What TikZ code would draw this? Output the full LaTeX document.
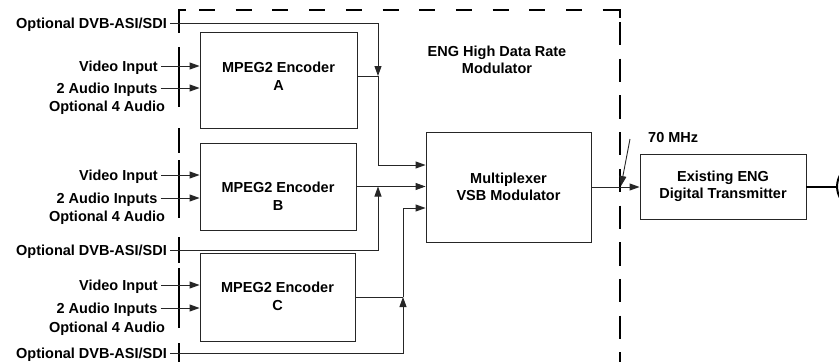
\documentclass[tikz,border=0pt]{standalone}
\usepackage{fontspec}
\setmainfont{Liberation Sans}
\usetikzlibrary{arrows.meta,calc}
\begin{document}
\begin{tikzpicture}[x=1pt,y=-1pt,
  every node/.style={font=\fontsize{14.5}{17.5}\selectfont\bfseries, inner sep=3pt},
  block/.style={draw=black!85, line width=0.9pt},
  wire/.style={draw=black!85, line width=0.9pt},
  arr/.style={wire, -{Triangle[length=10pt,width=7pt]}},
  lbl/.style={text height=10.4pt, text depth=0pt},
  txt/.style={align=center},
  frame/.style={draw=black, line width=1.4pt}]
\useasboundingbox (0,0) rectangle (839,362);

% modulator enclosure (long-dash outline, open at the bottom)
\draw[frame] (179,17) -- (179,10) -- (186,10);
\draw[frame, dash pattern=on 16pt off 20.7pt, dash phase=16.7pt] (179,10) -- (620,10);
\draw[frame] (605,10) -- (620,10) -- (620,18);
\draw[frame, dash pattern=on 23.3pt off 13.4pt, dash phase=24.7pt] (620,10) -- (620,362);
\foreach \a/\b in {10/33,47/107,128/153,160/218,237/263,268/328,343/362}
  \draw[frame] (179,\a) -- (179,\b);
\node[txt] (engtxt) at (497,60) {ENG High Data Rate\\Modulator};

% encoders
\node[block, minimum width=157pt, minimum height=96pt] (encA) at (278.5,80) {};
\node[txt] (encAtxt) at (278.5,76) {MPEG2 Encoder\\A};
\node[block, minimum width=156pt, minimum height=87pt] (encB) at (278,186.5) {};
\node[txt] (encBtxt) at (278,196) {MPEG2 Encoder\\B};
\node[block, minimum width=155pt, minimum height=88pt] (encC) at (277.5,297) {};
\node[txt] (encCtxt) at (277.5,296.5) {MPEG2 Encoder\\C};

% multiplexer and transmitter
\node[block, minimum width=165pt, minimum height=110pt, align=center] (mux) at (508.5,187) {Multiplexer\\VSB Modulator};
\node[block, minimum width=166pt, minimum height=65pt, align=center] (tx) at (723,186.5) {Existing ENG\\Digital Transmitter};

% input labels
\node[lbl, anchor=east] (dvbA) at (170,23) {Optional DVB-ASI/SDI};
\node[lbl, anchor=east] (vidA) at (161,66) {Video Input};
\node[lbl] (audA) at (107,88) {2 Audio Inputs};
\node[lbl] (optA) at (107,106) {Optional 4 Audio};

\node[lbl, anchor=east] (vidB) at (161,175) {Video Input};
\node[lbl] (audB) at (107,198) {2 Audio Inputs};
\node[lbl] (optB) at (107,216) {Optional 4 Audio};
\node[lbl, anchor=east] (dvbB) at (170,250) {Optional DVB-ASI/SDI};

\node[lbl, anchor=east] (vidC) at (161,285) {Video Input};
\node[lbl] (audC) at (107,308) {2 Audio Inputs};
\node[lbl] (optC) at (107,327) {Optional 4 Audio};
\node[lbl, anchor=east] (dvbC) at (170,353) {Optional DVB-ASI/SDI};

% encoder inputs
\foreach \e in {A,B,C}{
  \draw[arr] (vid\e.east) -- (vid\e.east -| enc\e.west);
  \draw[arr] (aud\e.east) -- (aud\e.east -| enc\e.west);
}

% junction points
\coordinate (jA) at (378,76);
\coordinate (jB) at (378,186.5);
\coordinate (jC) at (403,297);
\coordinate (inA) at (400,165);
\coordinate (inC) at (400,208);

% stream A
\draw[wire] (jA -| encA.east) -- (jA);
\draw[arr] (dvbA.east) -| (jA);
\draw[arr] (jA) |- (inA -| mux.west);

% stream B
\draw[arr] (encB.east) -- (encB.east -| mux.west);
\draw[arr] (dvbB.east) -| (jB);

% stream C
\draw[wire] (encC.east) -- (jC);
\draw[arr] (dvbC.east) -| (jC);
\draw[arr] (jC) |- (inC -| mux.west);

% modulator output
\draw[arr] (mux.east) -- (mux.east -| tx.west);
\node[lbl, anchor=base west] (mhz) at (645,142) {70 MHz};
\coordinate (ptS) at (630,139);
\coordinate (ptE) at (621,186);
\draw[arr] (ptS) -- (ptE);

% antenna feed
\coordinate (ant) at (837,186.5);
\draw[line width=2pt] (tx.east) -- (ant);
\draw[line width=2pt] (841.2,199.7) arc[start angle=145,end angle=215,radius=23];
\end{tikzpicture}
\end{document}
